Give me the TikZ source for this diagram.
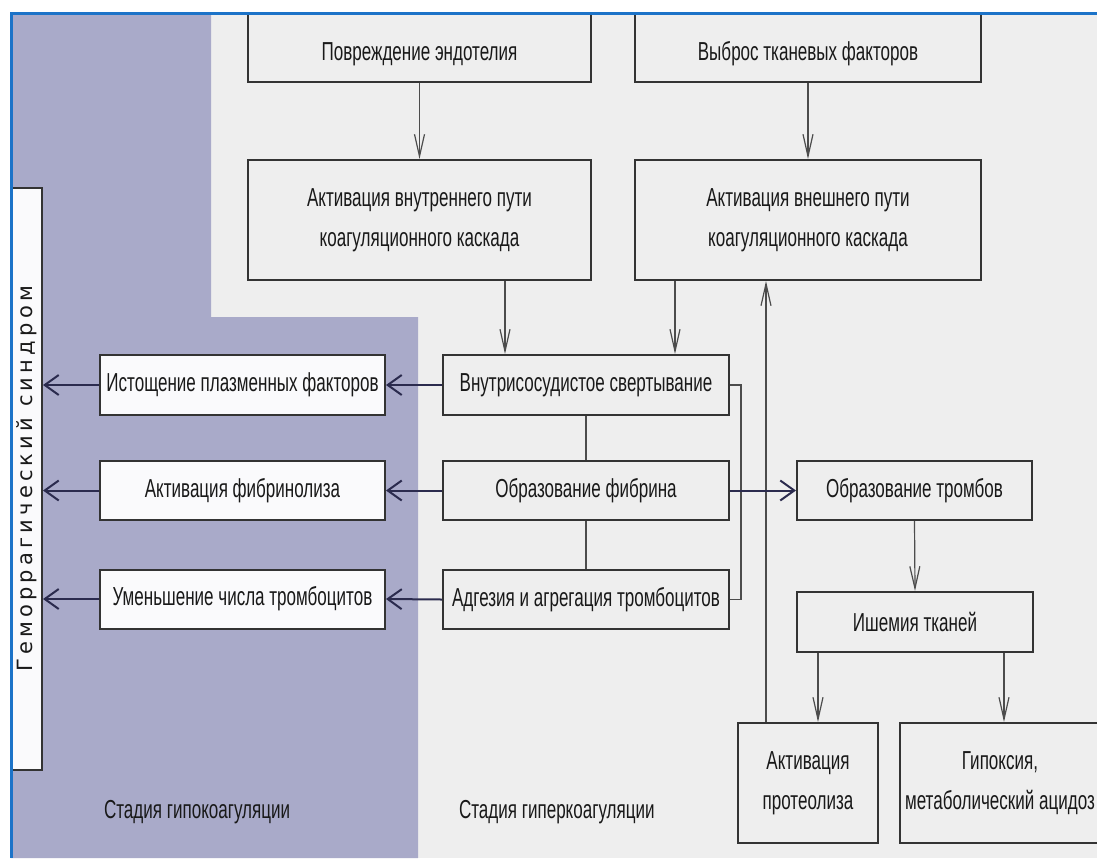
\documentclass[tikz,border=0pt]{standalone}
\usepackage{amsmath,amssymb}
\usepackage{xcolor}
\usepackage{fontspec}
\setmainfont[FakeStretch=0.655]{Liberation Sans}
\newfontfamily\sidefont[LetterSpace=20]{DejaVu Sans}
\usepackage{tikz}
\usetikzlibrary{arrows.meta}

\definecolor{hypo}{HTML}{A9AAC9}
\definecolor{paper}{HTML}{EEEEEE}
\definecolor{frameblue}{HTML}{1C73C8}
\definecolor{navy}{HTML}{2B2B4E}

\tikzset{
  box/.style={draw=black!80, line width=1pt, fill=paper, inner sep=0pt, align=center,
    text=black!90, font=\fontsize{13}{20}\selectfont},
  wbox/.style={box, fill=white!94!hypo},
  link/.style={draw=black!70, line width=0.6pt},
  arr/.style={link, -{Straight Barb[length=11pt,width=5pt]}},
  narr/.style={draw=navy, line width=1pt, -{Straight Barb[length=7pt,width=10pt]}},
}

\begin{document}
\begin{tikzpicture}[x=0.5pt, y=-0.5pt]
  \useasboundingbox (0,0) rectangle (1097,858);
  \begin{scope}
    \clip (11,13) rectangle (1097,858);
    \fill[paper] (11,13) rectangle (1097,858);
    \fill[hypo] (11,13) -- (211,13) -- (211,317) -- (418,317) -- (418,858) -- (11,858) -- cycle;
    % causes
    \node[box, anchor=south, minimum width=171.5pt, text height=30pt, text depth=11pt] (endo) at (419.5,83) {Повреждение эндотелия};
    \node[box, anchor=south, minimum width=173pt, text height=30pt, text depth=11pt] (tissue) at (808,83) {Выброс тканевых факторов};
    \node[box, minimum width=171.5pt, minimum height=60pt] (intrinsic) at (419.5,220) {Активация внутреннего пути\\коагуляционного каскада};
    \node[box, minimum width=173pt, minimum height=60pt] (extrinsic) at (808,220) {Активация внешнего пути\\коагуляционного каскада};
    % hypercoagulation
    \node[box, minimum width=143pt, minimum height=30pt] (dic) at (586,385) {Внутрисосудистое свертывание};
    \node[box, minimum width=143pt, minimum height=29.5pt] (fibrin) at (586,490.5) {Образование фибрина};
    \node[box, minimum width=143pt, minimum height=29.5pt] (adhesion) at (586,599.5) {Адгезия и агрегация тромбоцитов};
    \node[box, minimum width=117.5pt, minimum height=29.5pt] (thrombi) at (914.5,490.5) {Образование тромбов};
    \node[box, minimum width=118pt, minimum height=30pt] (ischemia) at (915,622) {Ишемия тканей};
    \node[box, minimum width=70pt, minimum height=60pt] (proteolysis) at (808,783) {Активация\\протеолиза};
    \node[box, minimum width=100pt, minimum height=60pt] (hypoxia) at (1000,783) {Гипоксия,\\метаболический ацидоз};
    % hypocoagulation
    \node[wbox, minimum width=142.5pt, minimum height=30pt] (depletion) at (242.5,385) {Истощение плазменных факторов};
    \node[wbox, minimum width=142.5pt, minimum height=29.5pt] (fibrinolysis) at (242.5,490.5) {Активация фибринолиза};
    \node[wbox, minimum width=142.5pt, minimum height=29.5pt] (platelets) at (242.5,599) {Уменьшение числа тромбоцитов};
    \node[wbox, rotate=90, minimum width=291pt, minimum height=15.5pt, font=\sidefont\fontsize{10.5}{12}\selectfont] (hemorrhage) at (26.5,479) {Геморрагический синдром};
    \node[anchor=west, text=black!90, font=\fontsize{13}{14}\selectfont] (hypolabel) at (97,812) {Стадия гипокоагуляции};
    \node[anchor=west, text=black!90, font=\fontsize{13}{14}\selectfont] (hyperlabel) at (452,812) {Стадия гиперкоагуляции};

    \draw[arr] (endo.south) -- (intrinsic.north);
    \draw[arr] (tissue.south) -- (extrinsic.north);
    \draw[arr] ([xshift=42.75pt]intrinsic.south) -- ([xshift=42.75pt]intrinsic.south |- dic.north);
    \draw[arr] ([xshift=-66.5pt]extrinsic.south) -- ([xshift=-66.5pt]extrinsic.south |- dic.north);
    \draw[arr] ([xshift=-21pt]proteolysis.north) -- ([xshift=-21pt]proteolysis.north |- extrinsic.south);
    \draw[link] (dic.south) -- (fibrin.north);
    \draw[link] (fibrin.south) -- (adhesion.north);
    \draw[link] (dic.east) -- ++(5.5pt,0) |- (adhesion.east);
    \draw[narr] (fibrin.east) -- (thrombi.west);
    \draw[arr] (thrombi.south) -- (ischemia.north);
    \draw[arr] ([xshift=-48.5pt]ischemia.south) -- ([xshift=-48.5pt]ischemia.south |- proteolysis.north);
    \draw[arr] ([xshift=44.5pt]ischemia.south) -- ([xshift=44.5pt]ischemia.south |- hypoxia.north);
    \draw[narr] (dic.west) -- (depletion.east);
    \draw[narr] (fibrin.west) -- (fibrinolysis.east);
    \draw[narr] (adhesion.west) -- (platelets.east);
    \draw[narr] (depletion.west) -- (depletion.west -| hemorrhage.south);
    \draw[narr] (fibrinolysis.west) -- (fibrinolysis.west -| hemorrhage.south);
    \draw[narr] (platelets.west) -- (platelets.west -| hemorrhage.south);
  \end{scope}
  \draw[frameblue, line width=1.5pt] (11,858) -- (11,13) -- (1097,13);
\end{tikzpicture}
\end{document}
